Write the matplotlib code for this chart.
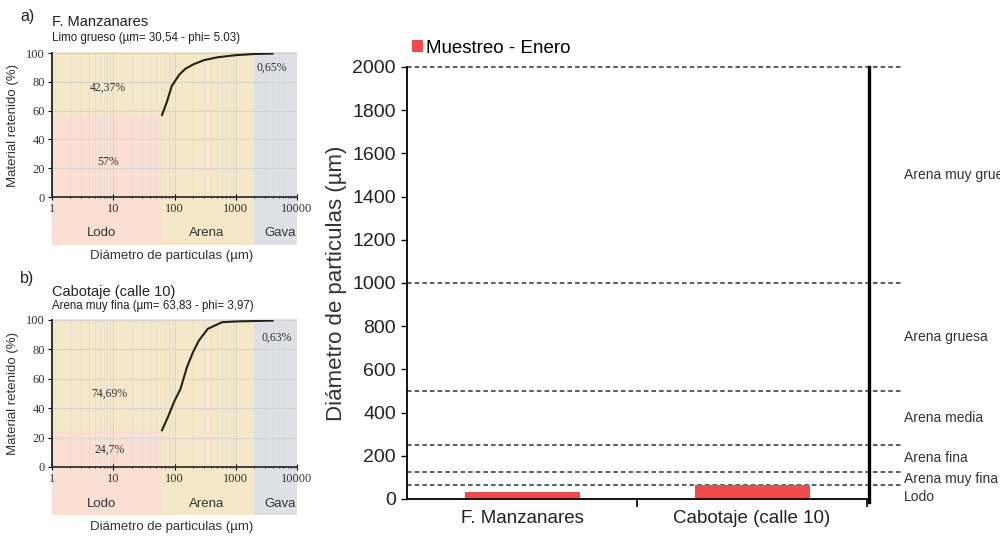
import matplotlib
matplotlib.use("Agg")
import matplotlib.pyplot as plt
import matplotlib.transforms as mtransforms
from matplotlib.patches import Rectangle
from matplotlib.ticker import LogLocator, NullFormatter, FixedLocator

# --- Data ---
muestras = ["F. Manzanares", "Cabotaje (calle 10)"]
diametro_medio = [30.54, 63.83]
serie_nombre = "Muestreo - Enero"

limites_clase = [62.5, 125, 250, 500, 1000, 2000]
clases = ["Lodo", "Arena muy fina", "Arena fina", "Arena media", "Arena gruesa", "Arena muy gruesa"]
clases_y = [10, 94, 188, 375, 750, 1500]

# curvas granulometricas (diametro um, % retenido acumulado)
curva_a_x = [62.5, 75, 90, 120, 150, 200, 300, 500, 1000, 2000, 4000]
curva_a_y = [57, 66, 77, 85, 89, 92, 95, 97, 98.5, 99.3, 99.6]
curva_b_x = [62.5, 80, 100, 125, 160, 200, 250, 350, 500, 600, 1000, 2000, 4000]
curva_b_y = [25, 35, 45, 53, 68, 78, 86, 94, 97, 98.5, 99, 99.3, 99.6]

pct_a = ["57%", "42,37%", "0,65%"]
pct_b = ["24,7%", "74,69%", "0,63%"]
lodo_a, lodo_b = 57, 24.7

zonas = ["Lodo", "Arena", "Gava"]
zonas_lim = [1, 62.5, 2000, 10000]

SANS = ["Liberation Sans", "DejaVu Sans"]
SERIF = ["Liberation Serif", "DejaVu Serif"]

C_LODO = "#fadfd2"
C_ARENA = "#f4e8c8"
C_GRAVA = "#dfe0e6"


def draw_panel(ax, cx, cy, lodo, pcts, pct_pos):
    trans = mtransforms.blended_transform_factory(ax.transData, ax.transAxes)
    ax.set_xscale("log")
    ax.set_xlim(1, 10000)
    ax.set_ylim(0, 100)
    ax.set_facecolor("none")
    bot = -0.33
    ax.add_patch(Rectangle((zonas_lim[0], bot), zonas_lim[1] - zonas_lim[0], lodo / 100 - bot,
                           transform=trans, color=C_LODO, clip_on=False, zorder=0, lw=0))
    ax.add_patch(Rectangle((zonas_lim[0], lodo / 100), zonas_lim[1] - zonas_lim[0], 1.01 - lodo / 100,
                           transform=trans, color=C_ARENA, clip_on=False, zorder=0, lw=0))
    ax.add_patch(Rectangle((zonas_lim[1], bot), zonas_lim[2] - zonas_lim[1], 1.01 - bot,
                           transform=trans, color=C_ARENA, clip_on=False, zorder=0, lw=0))
    ax.add_patch(Rectangle((zonas_lim[2], bot), zonas_lim[3] - zonas_lim[2], 1.01 - bot,
                           transform=trans, color=C_GRAVA, clip_on=False, zorder=0, lw=0))

    ax.plot(cx, cy, color="#222211", lw=1.5, zorder=3)

    ax.set_axisbelow(True)
    ax.xaxis.set_minor_locator(LogLocator(base=10, subs=range(2, 10), numticks=10))
    ax.xaxis.set_minor_formatter(NullFormatter())
    ax.set_xticks([1, 10, 100, 1000, 10000])
    ax.set_xticklabels(["1", "10", "100", "1000", "10000"])
    ax.set_yticks(range(0, 101, 20))
    ax.grid(True, which="major", color="#cccccc", lw=0.5)
    ax.grid(True, which="minor", axis="x", color="#dadada", lw=0.4)
    for s in ["top", "right"]:
        ax.spines[s].set_visible(False)
    ax.spines["left"].set_linewidth(1.3)
    ax.spines["bottom"].set_linewidth(1.3)
    ax.spines["left"].set_color("#222")
    ax.spines["bottom"].set_color("#333")
    ax.tick_params(axis="both", which="major", labelsize=9, length=3, width=0.8, pad=2)
    ax.tick_params(axis="x", which="minor", length=2, width=0.6, direction="inout")
    ax.tick_params(axis="x", which="major", direction="inout", length=4)
    for lab in ax.get_xticklabels() + ax.get_yticklabels():
        lab.set_family(SERIF)
        lab.set_color("#333")

    for txt, (px, py) in zip(pcts, pct_pos):
        ax.text(px, py, txt, fontsize=8.5, family=SERIF, ha="center", va="center", color="#333", zorder=4)

    zx = [6.5, 330, 5300]
    for z, x in zip(zonas, zx):
        ax.text(x, -0.25, z, transform=trans, fontsize=9.5, family=SANS, ha="center", va="center", color="#333")
    ax.text(0.49, -0.41, "Diámetro de particulas (µm)", transform=ax.transAxes, fontsize=9.5,
            family=SANS, ha="center", va="center", color="#333")
    ax.text(-0.16, 0.5, "Material retenido (%)", transform=ax.transAxes, fontsize=9.5,
            family=SANS, ha="center", va="center", rotation=90, color="#333")


fig = plt.figure(figsize=(10, 5.37), dpi=100)

# --- left panels ---
ax_a = fig.add_axes([0.052, 0.6331, 0.245, 0.2682])
draw_panel(ax_a, curva_a_x, curva_a_y, lodo_a, pct_a, [(8.1, 24), (8.1, 76), (3900, 90)])
ax_b = fig.add_axes([0.052, 0.1304, 0.245, 0.2737])
draw_panel(ax_b, curva_b_x, curva_b_y, lodo_b, pct_b, [(8.7, 11.5), (8.7, 50), (4700, 88)])

fig.text(0.020, 1 - 17 / 537, "a)", fontsize=11.5, family=SANS, va="center", color="#222")
fig.text(0.052, 1 - 22 / 537, "F. Manzanares", fontsize=10.5, family=SANS, va="center", color="#222")
fig.text(0.052, 1 - 38 / 537, "Limo grueso (µm= 30,54 - phi= 5.03)", fontsize=8.3, family=SANS,
         va="center", color="#222")
fig.text(0.020, 1 - 279 / 537, "b)", fontsize=11.5, family=SANS, va="center", color="#222")
fig.text(0.052, 1 - 292 / 537, "Cabotaje (calle 10)", fontsize=10.5, family=SANS, va="center", color="#222")
fig.text(0.052, 1 - 306 / 537, "Arena muy fina (µm= 63,83 - phi= 3,97)", fontsize=8.3, family=SANS,
         va="center", color="#222")

# --- main chart ---
ax = fig.add_axes([0.407, 0.0708, 0.46, 0.8045])
pos = range(len(muestras))
ax.bar(pos, diametro_medio, width=0.5, color="#f24a4a", label=serie_nombre, zorder=2)
ax.set_xlim(-0.5, 1.5)
ax.set_ylim(0, 2000)
ax.set_yticks(range(0, 2001, 200))
ax.set_xticks([0.5, 1.5])
ax.set_xticklabels([])
ax.xaxis.set_minor_locator(FixedLocator(list(pos)))
ax.set_xticklabels(muestras, minor=True)
ax.tick_params(axis="x", which="minor", length=0, pad=8, labelsize=13.5)
ax.tick_params(axis="x", which="major", length=6, width=1.2)
ax.tick_params(axis="y", length=4, width=1.0, labelsize=14, pad=4)
for lab in ax.get_xticklabels(minor=True) + ax.get_yticklabels():
    lab.set_family(SANS)
    lab.set_color("#222")
for s in ["top", "right"]:
    ax.spines[s].set_visible(False)
ax.spines["left"].set_linewidth(1.3)
ax.spines["bottom"].set_linewidth(1.3)
ax.set_ylabel("Diámetro de particulas (µm)", fontsize=16, family=SANS, color="#333", labelpad=4)

for lim in limites_clase:
    ax.plot([-0.5, 1.655], [lim, lim], ls=(0, (3, 2)), color="#333333", lw=1.1, clip_on=False, zorder=1)
ax.plot([1.51, 1.51], [-12, 2000], color="black", lw=2.4, clip_on=False, zorder=3)
for nombre, y in zip(clases, clases_y):
    ax.text(1.66, y, nombre, fontsize=10, family=SANS, va="center", ha="left", color="#333")

ax.legend(loc="lower left", bbox_to_anchor=(0.01, 1.024), frameon=False, prop={"family": SANS, "size": 13.5},
          handlelength=0.6, handleheight=0.6, handletextpad=0.15, borderaxespad=0, borderpad=0)

fig.savefig("out.png", dpi=100)
